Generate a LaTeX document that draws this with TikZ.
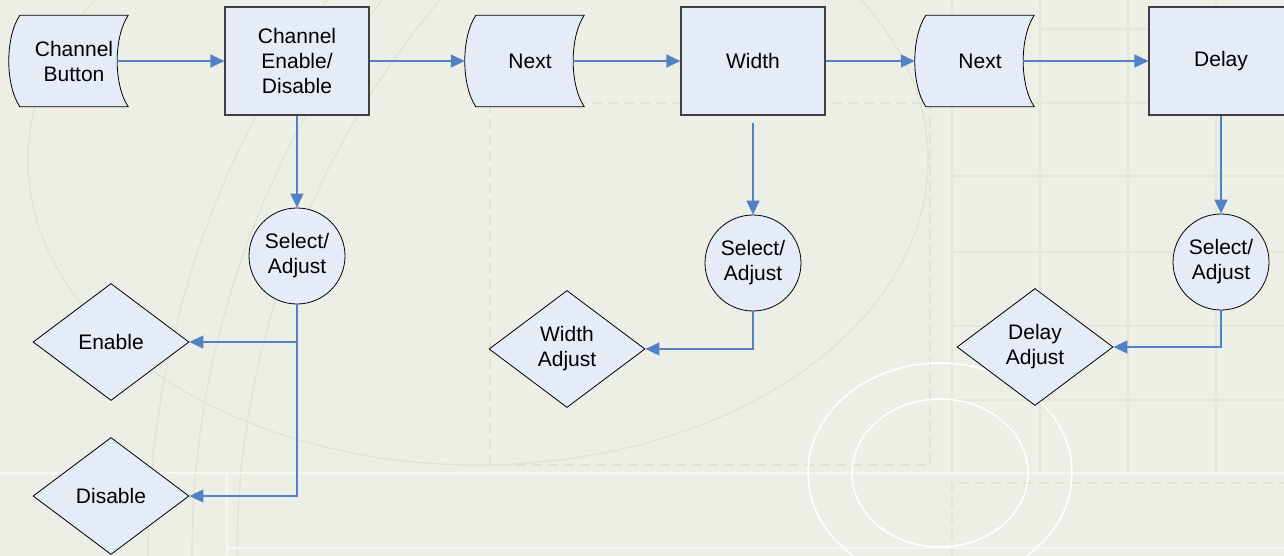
\documentclass[tikz,border=0pt]{standalone}
\usepackage{fontspec}
\setmainfont{Liberation Sans}
\usetikzlibrary{shapes.geometric,arrows.meta}
\pgfdeclarelayer{bg}
\pgfsetlayers{bg,main}
\definecolor{bgcol}{HTML}{EDEFE6}
\definecolor{decocol}{HTML}{DCE5D1}
\definecolor{gridcol}{HTML}{E1E8D8}
\definecolor{nodefill}{HTML}{E6ECF7}
\definecolor{conncol}{HTML}{5282C6}
\definecolor{rectline}{HTML}{404040}
\tikzset{
  lbl/.style={font=\fontsize{21pt}{25pt}\selectfont, align=center, text=black},
  tapebox/.style={lbl, rectangle, minimum width=108pt, minimum height=91pt, inner sep=0pt},
  tapeline/.style={draw=black, line width=0.8pt, fill=nodefill},
  procbox/.style={lbl, rectangle, draw=rectline, line width=1.1pt, fill=nodefill, minimum width=144pt, minimum height=108pt, inner sep=0pt},
  selbox/.style={lbl, circle, draw=black, line width=0.8pt, fill=nodefill, minimum size=96pt, inner sep=0pt},
  decbox/.style={lbl, diamond, draw=black, line width=0.8pt, fill=nodefill, minimum width=156pt, minimum height=117pt, inner sep=0pt},
  conn/.style={draw=conncol, line width=1.1pt, -{Triangle[length=14pt,width=13pt]}},
  deco/.style={draw=decocol, line width=1.2pt},
  gridl/.style={draw=gridcol, line width=1.6pt},
  dashl/.style={draw=decocol, line width=1.4pt, dash pattern=on 10pt off 6pt},
  whitel/.style={draw=white, draw opacity=0.55, line width=1.3pt}
}
\newcommand\tapeoutline[1]{%
  \begin{pgfonlayer}{bg}
  \path[tapeline] (#1.north west) .. controls +(-14.7,22) and +(-14.7,-22) .. (#1.south west)
     -- (#1.south east) .. controls +(-14.7,-22) and +(-14.7,22) .. (#1.north east) -- cycle;
  \end{pgfonlayer}}
\begin{document}
\begin{tikzpicture}[x=1pt,y=-1pt]
\useasboundingbox (0,0) rectangle (1284,556);
\begin{pgfonlayer}{bg}
  \fill[bgcol] (0,0) rectangle (1284,556);
  % faint background decoration
  \draw[deco] (478,160) ellipse [x radius=450, y radius=305];
  \draw[deco] (1100,556) circle [radius=952];
  \draw[deco] (1100,556) circle [radius=908];
  \draw[deco] (1100,556) circle [radius=863];
  \foreach \gx in {952,1040,1128,1216} \draw[gridl] (\gx,0) -- (\gx,473);
  \foreach \gy in {103,176,252,326,400} \draw[gridl] (952,\gy) -- (1284,\gy);
  \draw[gridl] (1040,29) -- (1284,29);
  \draw[dashl] (490,465) -- (490,103) -- (930,103) -- (930,465) -- cycle;
  \draw[dashl] (952,556) -- (952,483) -- (1284,483);
  \draw[whitel] (0,473) -- (1284,473);
  \draw[whitel] (227,473) -- (227,556);
  \draw[whitel] (227,548) -- (1284,548);
  \draw[white, line width=1.5pt] (940,473) ellipse [x radius=132, y radius=110];
  \draw[white, line width=1.5pt] (940,473) ellipse [x radius=88, y radius=74];
\end{pgfonlayer}

% top row
\node[tapebox] (cb) at (74,61) {Channel\\Button};
\tapeoutline{cb}
\node[procbox] (ced) at (297,61) {Channel\\Enable/\\Disable};
\node[tapebox] (nx1) at (530,61) {Next};
\tapeoutline{nx1}
\node[procbox] (wd) at (753,61) {Width};
\node[tapebox] (nx2) at (980,61) {Next};
\tapeoutline{nx2}
\node[procbox] (dl) at (1221,61) {Delay};

% select / adjust circles
\node[selbox] (sa1) at (297,256) {Select/\\Adjust};
\node[selbox] (sa2) at (753,263) {Select/\\Adjust};
\node[selbox] (sa3) at (1221,262) {Select/\\Adjust};

% decisions
\node[decbox] (en) at (111,342) {Enable};
\node[decbox] (dis) at (111,496) {Disable};
\node[decbox] (wa) at (567,349) {Width\\Adjust};
\node[decbox] (da) at (1035,347) {Delay\\Adjust};

% connectors
\draw[conn] ([xshift=-11pt]cb.east) -- (ced.west);
\draw[conn] (ced.east) -- ([xshift=-11pt]nx1.west);
\draw[conn] ([xshift=-11pt]nx1.east) -- (wd.west);
\draw[conn] (wd.east) -- ([xshift=-11pt]nx2.west);
\draw[conn] ([xshift=-11pt]nx2.east) -- (dl.west);
\draw[conn] (ced.south) -- (sa1.north);
\draw[conn, shorten <=7pt] (wd.south) -- (sa2.north);
\draw[conn] (dl.south) -- (sa3.north);
\draw[conn] (sa1.south) |- (en.east);
\draw[conn] (sa1.south) |- (dis.east);
\draw[conn] (sa2.south) |- (wa.east);
\draw[conn] (sa3.south) |- (da.east);
\end{tikzpicture}
\end{document}
